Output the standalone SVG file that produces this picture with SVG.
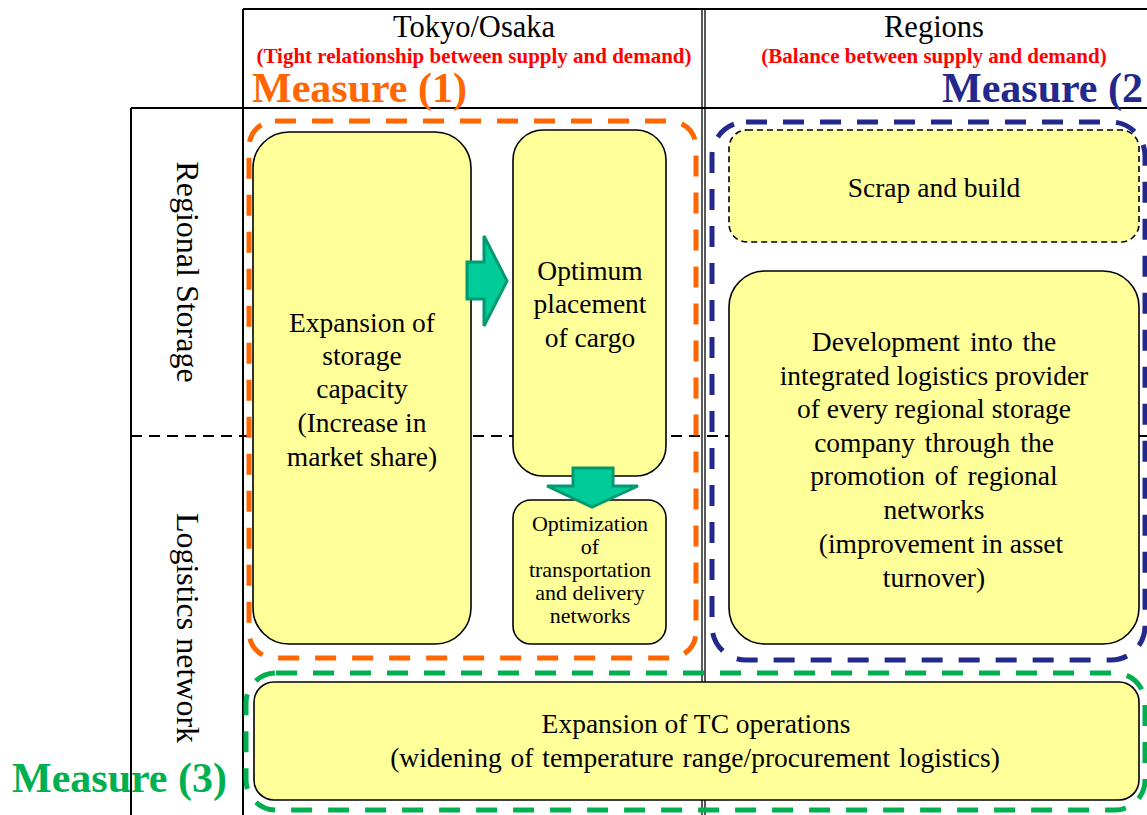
<svg xmlns="http://www.w3.org/2000/svg" width="1147" height="815" viewBox="0 0 1147 815">
<style>
.grid{stroke:#000;stroke-width:2;fill:none}
.gdash{stroke:#000;stroke-width:2;fill:none;stroke-dasharray:11 7}
.box{fill:#FFFF99;stroke:#000;stroke-width:1.6}
.boxd{fill:#FFFF99;stroke:#000;stroke-width:1.6;stroke-dasharray:6 4}
.m1{fill:none;stroke:#FF6600;stroke-width:5;stroke-dasharray:21 16}
.m2{fill:none;stroke:#22288C;stroke-width:5;stroke-dasharray:21 16}
.m3{fill:none;stroke:#00B050;stroke-width:5;stroke-dasharray:21 16}
.arr{fill:#00CC99;stroke:#009970;stroke-width:3;stroke-linejoin:miter}
text{font-family:"Liberation Serif","Times New Roman",serif;fill:#000}
.t{font-size:27.5px;text-anchor:middle}
.ts{font-size:22px;text-anchor:middle}
.hd{font-size:30.5px;text-anchor:middle}
.sub{font-size:21px;font-weight:bold;fill:#FF0000;text-anchor:middle}
.ms{font-size:42px;font-weight:bold}
.vl{font-size:32px;text-anchor:middle}
</style>
<g id="grid">
<line class="grid" x1="243" y1="9" x2="1147" y2="9"/>
<line class="grid" x1="131" y1="108" x2="1147" y2="108"/>
<line class="grid" x1="131" y1="108" x2="131" y2="815"/>
<line class="grid" x1="243" y1="9" x2="243" y2="815"/>
<line class="grid" x1="702" y1="9" x2="702" y2="815" style="stroke-width:1.3"/>
<line class="grid" x1="705" y1="9" x2="705" y2="815" style="stroke-width:1.3"/>
<line class="gdash" x1="131" y1="436" x2="1147" y2="436"/>
</g>
<g id="headers">
<text class="hd" x="474" y="37">Tokyo/Osaka</text>
<text class="sub" x="474" y="63">(Tight relationship between supply and demand)</text>
<text class="hd" x="934" y="37">Regions</text>
<text class="sub" x="934" y="63">(Balance between supply and demand)</text>
<text class="vl" transform="translate(177,272) rotate(90)">Regional Storage</text>
<text class="vl" transform="translate(177,628) rotate(90)">Logistics network</text>
</g>
<g id="measure1">
<rect class="m1" x="249" y="121" width="447" height="537" rx="26" ry="26"/>
<text class="ms" x="252" y="102" style="fill:#FF6600">Measure (1)</text>
</g>
<g id="measure2">
<rect class="m2" x="712" y="122" width="433" height="538" rx="34" ry="34"/>
<text class="ms" x="942" y="102" style="fill:#22288C">Measure (2</text>
</g>
<g id="measure3">
<rect class="m3" x="246" y="673" width="899" height="137" rx="30" ry="30"/>
<text class="ms" x="12" y="792" style="fill:#00B050">Measure (3)</text>
</g>
<g id="expansion">
<rect class="box" x="253" y="132" width="218" height="512" rx="36" ry="36"/>
<text class="t" x="362" y="332">Expansion of</text>
<text class="t" x="362" y="365">storage</text>
<text class="t" x="362" y="398">capacity</text>
<text class="t" x="362" y="432">(Increase in</text>
<text class="t" x="362" y="466">market share)</text>
</g>
<g id="optimum">
<rect class="box" x="513" y="130" width="153" height="346" rx="30" ry="30"/>
<text class="t" x="590" y="280">Optimum</text>
<text class="t" x="590" y="313">placement</text>
<text class="t" x="590" y="347">of cargo</text>
</g>
<g id="optimization">
<rect class="box" x="513" y="500" width="153" height="144" rx="18" ry="18"/>
<text class="ts" x="590" y="531">Optimization</text>
<text class="ts" x="590" y="554">of</text>
<text class="ts" x="590" y="577">transportation</text>
<text class="ts" x="590" y="600">and delivery</text>
<text class="ts" x="590" y="623">networks</text>
</g>
<g id="scrap">
<rect class="boxd" x="729" y="130" width="410" height="112" rx="18" ry="18"/>
<text class="t" x="934" y="197">Scrap and build</text>
</g>
<g id="development">
<rect class="box" x="729" y="271" width="410" height="373" rx="36" ry="36"/>
<text class="t" x="934" y="351" style="word-spacing:3px">Development into the</text>
<text class="t" x="934" y="385">integrated logistics provider</text>
<text class="t" x="934" y="418">of every regional storage</text>
<text class="t" x="934" y="452" style="word-spacing:3px">company through the</text>
<text class="t" x="934" y="485" style="word-spacing:3px">promotion of regional</text>
<text class="t" x="934" y="519">networks</text>
<text class="t" x="941" y="553">(improvement in asset</text>
<text class="t" x="934" y="587">turnover)</text>
</g>
<g id="tc">
<rect class="box" x="254" y="682" width="885" height="118" rx="20" ry="20"/>
<text class="t" x="696" y="733">Expansion of TC operations</text>
<text class="t" x="695" y="767" style="word-spacing:2px">(widening of temperature range/procurement logistics)</text>
</g>
<g id="connectors">
<polygon class="arr" points="467,262 484,262 484,236 507,281 484,326 484,299 467,299"/>
<polygon class="arr" points="573,468 613,468 613,486 638,486 592,507 547,486 573,486"/>
</g>
</svg>
